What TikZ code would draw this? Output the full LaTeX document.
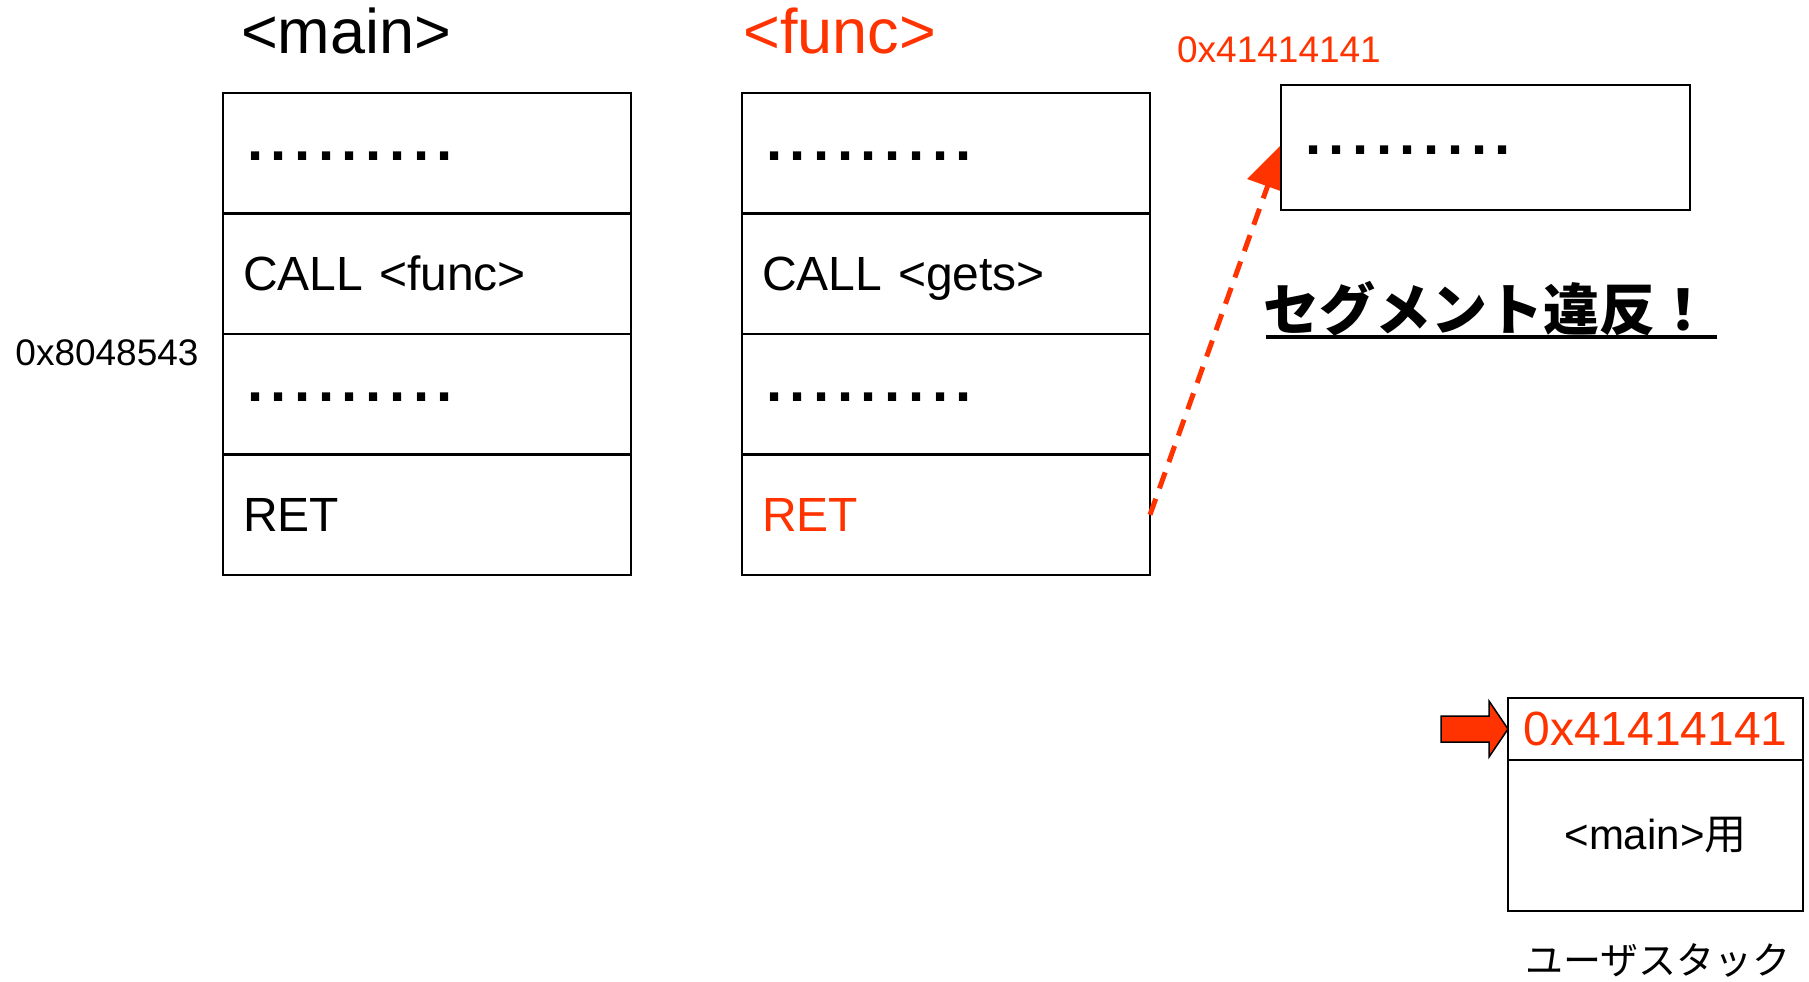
\documentclass[tikz,border=0pt]{standalone}
\usepackage{fontspec}
\setmainfont{Liberation Sans}
\newfontfamily\jpfont{Noto Sans CJK JP}
\usetikzlibrary{positioning,arrows.meta}
\definecolor{hackred}{RGB}{255,51,0}
\newcommand{\dotrow}{{\fontsize{58}{64}\selectfont\bfseries
  \kern4pt.\kern7.6pt.\kern7.6pt.\kern7.6pt.\kern7.6pt.\kern7.6pt.\kern7.6pt.\kern7.6pt.\kern7.6pt.}}

\begin{document}
\begin{tikzpicture}[x=1pt, y=-1pt,
  every node/.style={inner sep=0pt},
  cell/.style={rectangle, draw, line width=2.2pt, outer sep=0pt,
    minimum width=408pt, minimum height=120.5pt, text width=368pt,
    inner xsep=20pt, inner ysep=0pt, text height=34pt, text depth=0pt,
    align=left, font=\fontsize{48}{56}\selectfont},
  dotcell/.style={cell, text height=14pt},
  title/.style={anchor=base west, font=\fontsize{63}{70}\selectfont},
  addr/.style={font=\fontsize{37}{44}\selectfont},
  stackbox/.style={rectangle, draw, line width=2.2pt, outer sep=0pt,
    minimum width=295pt},
  attack/.style={hackred, line width=5pt, dash pattern=on 17pt off 11pt,
    -{Triangle[width=42pt,length=46pt]}},
]
\useasboundingbox (0,0) rectangle (1809,982);

% <main>
\node[title] (tmain) at (241,54) {<main>};
\node[dotcell] (m1) at (427,153.25) {\dotrow};
\node[cell, below=0pt of m1] (m2) {CALL <func>};
\node[dotcell, below=0pt of m2] (m3) {\dotrow};
\node[cell, below=0pt of m3] (m4) {RET};
\node[addr] (ret) at (107,353) {0x8048543};

% <func>
\node[title, hackred] (tfunc) at (743,54) {<func>};
\node[dotcell] (f1) at (946,153.25) {\dotrow};
\node[cell, below=0pt of f1] (f2) {CALL <gets>};
\node[dotcell, below=0pt of f2] (f3) {\dotrow};
\node[cell, below=0pt of f3] (f4) {\textcolor{hackred}{RET}};

% jump to 0x41414141
\coordinate (jump) at (1283,143);
\draw[attack] (f4.east) -- (jump);
\node[addr, hackred] (bad) at (1279,50) {0x41414141};
\node[dotcell, fill=white, minimum width=409pt, minimum height=125pt,
  text width=369pt] (far) at (1485.5,147.5) {\dotrow};

% segfault
\node[font=\jpfont\bfseries\fontsize{56}{64}\selectfont] (segv) at (1487,309)
  {セグメント違反！};
\draw[line width=3.5pt] (1266,337) -- (1717,337);

% user stack
\node[stackbox, minimum height=62pt, text=hackred,
  font=\fontsize{48}{56}\selectfont] (s1) at (1655.5,729) {0x41414141};
\node[stackbox, minimum height=151pt, below=0pt of s1,
  font=\fontsize{42}{50}\selectfont] (s2) {<main>{\jpfont 用}};
\node[font=\jpfont\fontsize{38}{44}\selectfont] (ustack) at (1658,960)
  {ユーザスタック};
\draw[fill=hackred, line width=1.5pt] (s1.west) -- ++(-19,-28) -- ++(0,15)
  -- ++(-48,0) -- ++(0,26) -- ++(48,0) -- ++(0,15) -- cycle;

\end{tikzpicture}
\end{document}
